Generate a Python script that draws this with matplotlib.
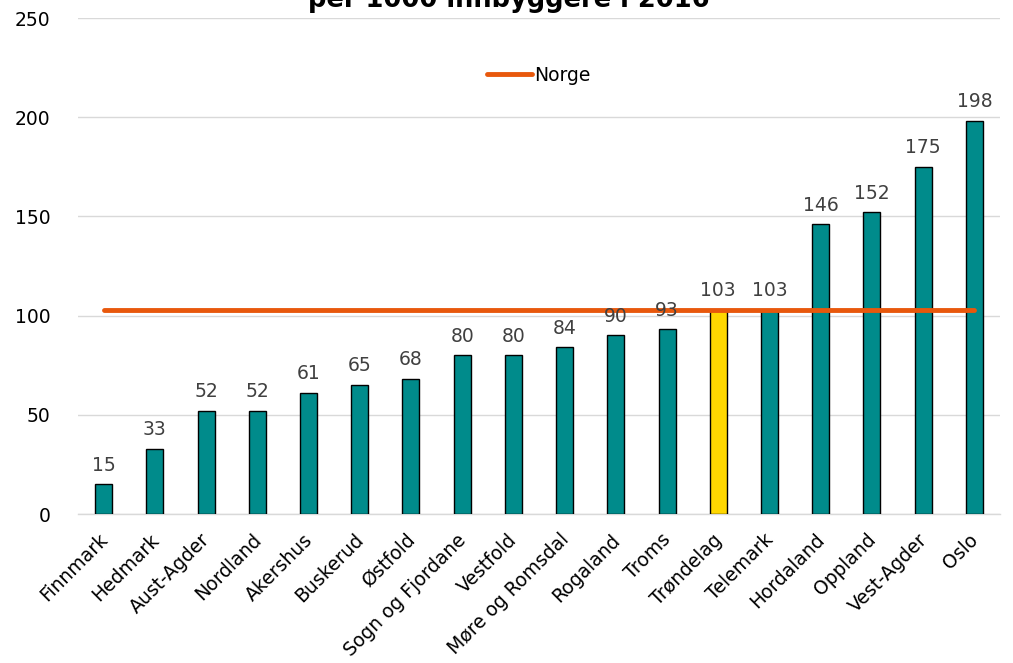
import matplotlib
matplotlib.use("Agg")
import matplotlib.pyplot as plt
import matplotlib.transforms as mtransforms
import numpy as np

categories = ["Finnmark", "Hedmark", "Aust-Agder", "Nordland", "Akershus", "Buskerud",
              "Østfold", "Sogn og Fjordane", "Vestfold", "Møre og Romsdal", "Rogaland",
              "Troms", "Trøndelag", "Telemark", "Hordaland", "Oppland", "Vest-Agder", "Oslo"]
values = [15, 33, 52, 52, 61, 65, 68, 80, 80, 84, 90, 93, 103, 103, 146, 152, 175, 198]
norge = 103
highlight = "Trøndelag"

plt.rcParams['font.family'] = ['DejaVu Sans']
fig = plt.figure(figsize=(10.13, 6.63), dpi=100)
ax = fig.add_axes([78/1013, 1-514/663, 922/1013, 496/663])

x = np.arange(len(categories))
colors = ["#FFD700" if c == highlight else "#008B8B" for c in categories]
ax.bar(x, values, width=0.33, color=colors, edgecolor="black", linewidth=1, zorder=3)
for xi, v in zip(x, values):
    ax.annotate(f"{v}", (xi, v), xytext=(0, 7), textcoords="offset points",
                ha="center", va="bottom", fontsize=13.5, color="#404040", zorder=5)

ax.plot(x, [norge]*len(x), color="#E8580C", linewidth=3.5, solid_capstyle="round",
        label="Norge", zorder=4)

ax.set_xlim(-0.5, len(x)-0.5)
ax.set_ylim(0, 250)
ax.set_yticks(range(0, 251, 50))
ax.set_xticks(x)
ax.set_xticklabels([])
label_tr = ax.get_xaxis_transform() + mtransforms.ScaledTranslation(1/100, -23/100, fig.dpi_scale_trans)
for xi, c in zip(x, categories):
    ax.text(xi, 0, c, transform=label_tr, rotation=45, ha="right", va="center",
            rotation_mode="anchor", fontsize=13.5, color="black")
ax.tick_params(axis="y", labelsize=13.5, length=0, pad=20)
ax.tick_params(axis="x", length=0)
ax.grid(axis="y", color="#D9D9D9", linewidth=1, zorder=0)
for s in ["left", "right", "top"]:
    ax.spines[s].set_visible(False)
ax.spines["bottom"].set_color("#D9D9D9")
ax.spines["bottom"].set_linewidth(1)

leg = ax.legend(loc="center", bbox_to_anchor=(0.5, 0.885), frameon=False, fontsize=13.5,
                handlelength=2.4, handletextpad=0.1)

fig.text(509/1013, 1-7/663, "per 1000 innbyggere i 2016", ha="center", va="baseline",
         fontsize=18.5, fontweight="bold")

fig.savefig("out.png", dpi=100)
